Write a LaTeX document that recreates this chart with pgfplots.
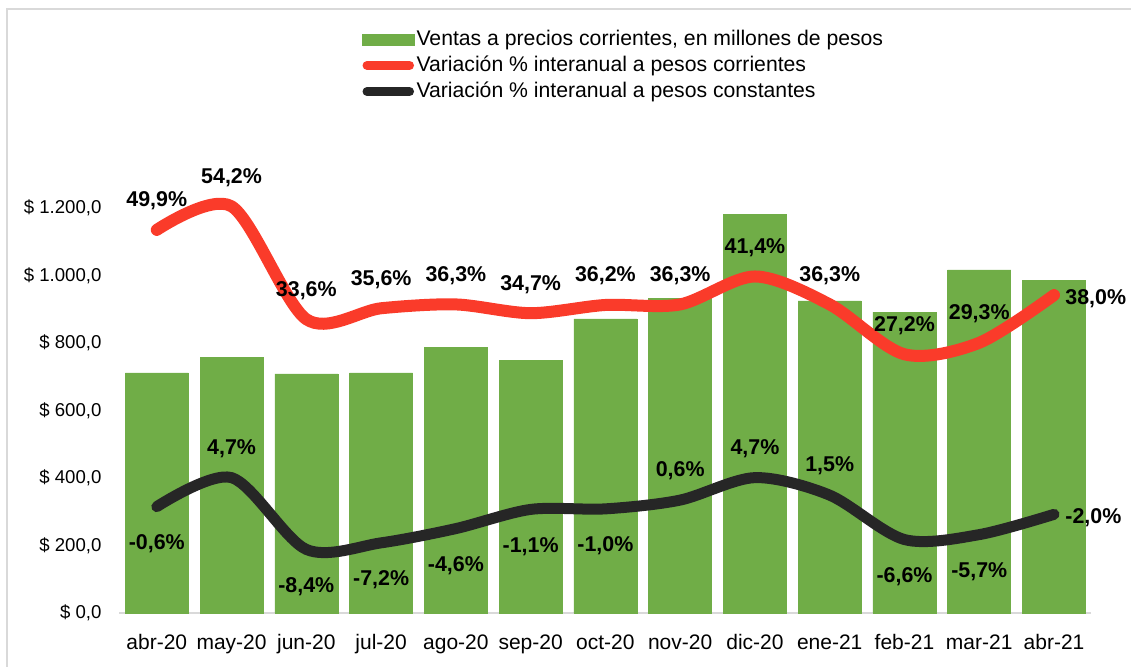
\documentclass[border=0pt]{standalone}
\usepackage{fontspec}
\setmainfont{Liberation Sans}
\usepackage{pgfplots}
\pgfplotsset{compat=1.18}
\definecolor{barg}{HTML}{70AD47}
\definecolor{redl}{HTML}{FA3B2A}
\definecolor{blkl}{HTML}{262626}
\definecolor{frameg}{HTML}{D9D9D9}
\begin{document}
\begin{tikzpicture}
\pgfplotsset{
  base/.style={at={(59.7pt,26.5pt)}, anchor=south west, scale only axis,
    width=486pt, height=219.25pt, xmin=-0.5, xmax=12.5},
  lbl/.style={forget plot, draw=none, mark=none, point meta=explicit symbolic,
    nodes near coords,
    nodes near coords style={font=\bfseries\fontsize{10.7}{12}\selectfont, inner sep=0pt, text=black, #1}},
}
\begin{axis}[base, ymin=0, ymax=1300,
  axis lines*=left, y axis line style={draw=none},
  x axis line style={draw=frameg, line width=1pt},
  major tick length=0pt,
  xtick={0,...,12},
  xticklabels={abr-20,may-20,jun-20,jul-20,ago-20,sep-20,oct-20,nov-20,dic-20,ene-21,feb-21,mar-21,abr-21},
  ytick={0,200,...,1200},
  yticklabels={{\$ 0,0},{\$ 200,0},{\$ 400,0},{\$ 600,0},{\$ 800,0},{\$ 1.000,0},{\$ 1.200,0}},
  xticklabel style={font=\fontsize{10.5}{12}\selectfont, inner sep=0pt, anchor=north, yshift=-10.5pt},
  yticklabel style={font=\fontsize{9.3}{11}\selectfont, inner sep=0pt, anchor=east, xshift=-8.8pt},
]
\addplot[ybar, bar width=31.5pt, fill=barg, draw=barg, line width=0.3pt]
  coordinates {(0,712) (1,758) (2,709) (3,712) (4,787) (5,750) (6,872) (7,933) (8,1181) (9,925) (10,892) (11,1017) (12,986)};
\end{axis}
\begin{axis}[base, ymin=-20, ymax=60, hide axis, clip=false,
  legend style={at={(0.2493,1.339)}, anchor=north west, draw=none, fill=none, inner sep=0pt,
    font=\fontsize{10.6}{12}\selectfont, row sep=-0.25pt,
    /tikz/every odd column/.style={column sep=-1pt}},
  legend cell align=left,
]
\addlegendimage{legend image code/.code={\fill[barg] (0pt,-2.75pt) rectangle (25.8pt,2.75pt);}}
\addlegendimage{legend image code/.code={\draw[redl, line width=4.5pt, line cap=round] (2.25pt,0pt) -- (23.5pt,0pt);}}
\addlegendimage{legend image code/.code={\draw[blkl, line width=4.5pt, line cap=round] (2.25pt,0pt) -- (23.5pt,0pt);}}
\addplot[forget plot, redl, line width=6pt, smooth, line cap=round, line join=round]
  coordinates {(0,49.9) (1,54.2) (2,33.6) (3,35.6) (4,36.3) (5,34.7) (6,36.2) (7,36.3) (8,41.4) (9,36.3) (10,27.2) (11,29.3) (12,38.0)};
\addplot[forget plot, blkl, line width=5.5pt, smooth, line cap=round, line join=round]
  coordinates {(0,-0.6) (1,4.7) (2,-8.4) (3,-7.2) (4,-4.6) (5,-1.1) (6,-1.0) (7,0.6) (8,4.7) (9,1.5) (10,-6.6) (11,-5.7) (12,-2.0)};
\addplot[lbl={anchor=base, yshift=11.5pt}] coordinates {
  (0,49.9) [49,9\%] (1,54.2) [54,2\%] (2,33.6) [33,6\%] (3,35.6) [35,6\%] (4,36.3) [36,3\%]
  (5,34.7) [34,7\%] (6,36.2) [36,2\%] (7,36.3) [36,3\%] (8,41.4) [41,4\%] (9,36.3) [36,3\%]
  (10,27.2) [27,2\%] (11,29.3) [29,3\%]};
\addplot[lbl={anchor=base west, xshift=5.5pt, yshift=-4.5pt}] coordinates {(12,38.0) [38,0\%]};
\addplot[lbl={anchor=base, yshift=11.6pt}] coordinates {
  (1,4.7) [4,7\%] (7,0.6) [0,6\%] (8,4.7) [4,7\%] (9,1.5) [1,5\%]};
\addplot[lbl={anchor=base, yshift=-21.5pt}] coordinates {
  (0,-0.6) [-0,6\%] (2,-8.4) [-8,4\%] (3,-7.2) [-7,2\%] (4,-4.6) [-4,6\%] (5,-1.1) [-1,1\%]
  (6,-1.0) [-1,0\%] (10,-6.6) [-6,6\%] (11,-5.7) [-5,7\%]};
\addplot[lbl={anchor=base west, xshift=5.5pt, yshift=-4.5pt}] coordinates {(12,-2.0) [-2,0\%]};
\legend{{Ventas a precios corrientes, en millones de pesos},
  {Variación \% interanual a pesos corrientes},
  {Variación \% interanual a pesos constantes}}
\end{axis}
\draw[frameg, line width=1pt] (3.5pt,-5pt) -- (3.5pt,328.5pt) -- (575pt,328.5pt);
\pgfresetboundingbox
\useasboundingbox (0,0) rectangle (565.5pt,333pt);
\end{tikzpicture}
\end{document}
